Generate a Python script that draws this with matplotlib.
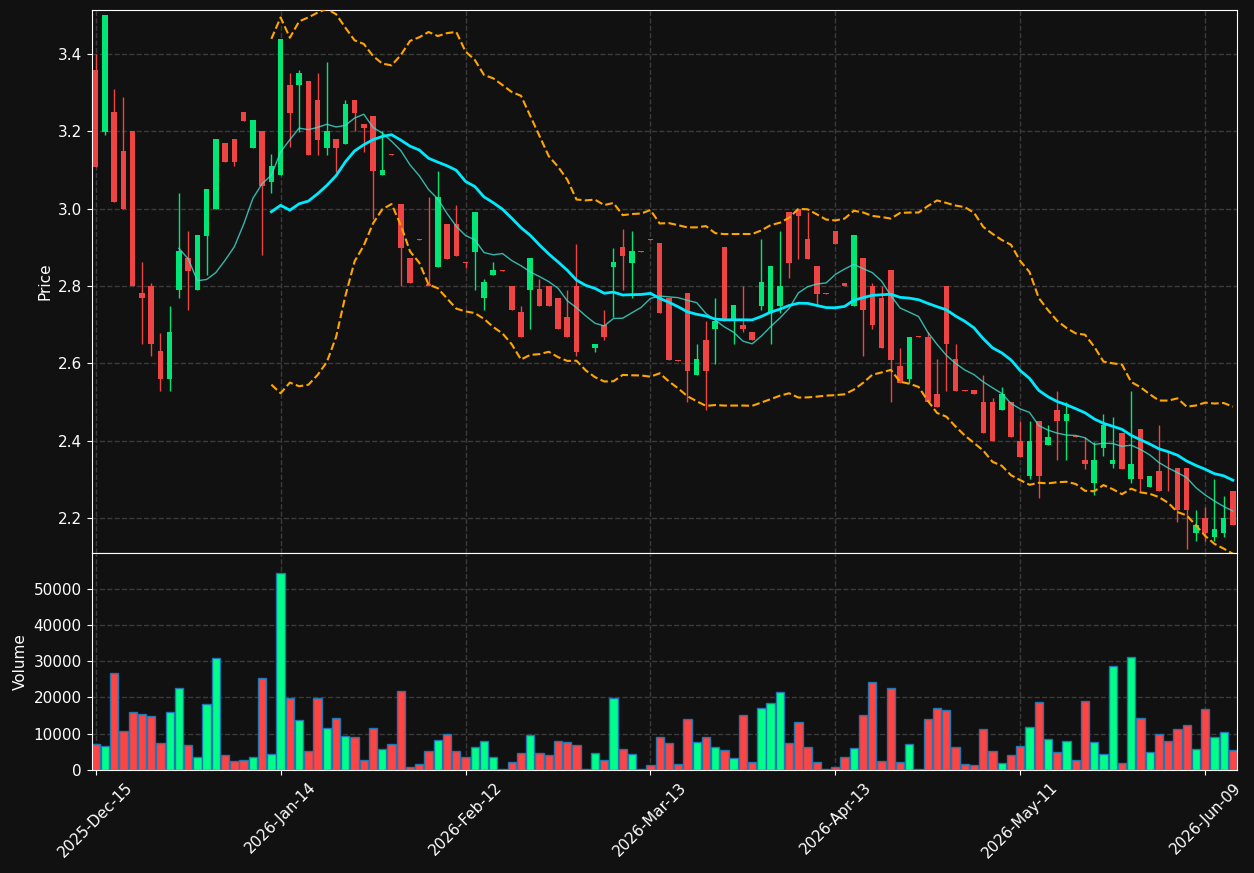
import numpy as np
import pandas as pd
import matplotlib
matplotlib.use("Agg")
import matplotlib.pyplot as plt

# trading days (NYSE calendar) from 2025-12-15 to 2026-06-12
holidays = ["2025-12-25", "2026-01-01", "2026-01-19", "2026-02-16", "2026-04-03", "2026-05-25"]
dates = pd.bdate_range("2025-12-15", "2026-06-12", freq="C", holidays=holidays)

opens = [3.358, 3.199, 3.249, 3.148, 3.200, 2.781, 2.801, 2.631, 2.559, 2.790,
         2.871, 2.790, 2.928, 3.000, 3.169, 3.180, 3.249, 3.157, 3.201, 3.069,
         3.087, 3.320, 3.318, 3.330, 3.280, 3.157, 3.180, 3.167, 3.280, 3.219,
         3.239, 3.087, 3.141, 3.011, 2.871, 2.922, 2.805, 2.849, 2.960, 2.960,
         2.862, 2.888, 2.769, 2.828, 2.841, 2.801, 2.732, 2.790, 2.791, 2.801,
         2.770, 2.721, 2.801, 2.630, 2.640, 2.700, 2.849, 2.900, 2.860, 2.889,
         2.921, 2.910, 2.770, 2.609, 2.781, 2.569, 2.661, 2.689, 2.900, 2.710,
         2.700, 2.680, 2.748, 2.730, 2.748, 2.990, 3.000, 2.921, 2.851, 2.781,
         2.942, 2.808, 2.748, 2.871, 2.801, 2.770, 2.841, 2.592, 2.559, 2.670,
         2.669, 2.521, 2.801, 2.610, 2.530, 2.530, 2.500, 2.500, 2.479, 2.500,
         2.399, 2.310, 2.451, 2.390, 2.479, 2.450, 2.411, 2.350, 2.290, 2.380,
         2.339, 2.420, 2.300, 2.430, 2.280, 2.321, 2.271, 2.330, 2.330, 2.161,
         2.200, 2.151, 2.161, 2.271]
highs = [3.400, 3.499, 3.308, 3.287, 3.200, 2.861, 2.808, 2.679, 2.749, 3.039,
         2.941, 2.931, 3.050, 3.180, 3.169, 3.180, 3.249, 3.229, 3.201, 3.140,
         3.439, 3.349, 3.357, 3.330, 3.349, 3.378, 3.180, 3.280, 3.280, 3.219,
         3.239, 3.200, 3.141, 3.011, 2.871, 2.922, 3.029, 3.098, 2.960, 3.009,
         2.862, 2.990, 2.819, 2.861, 2.841, 2.801, 2.749, 2.871, 2.819, 2.801,
         2.770, 2.790, 2.909, 2.630, 2.650, 2.739, 2.899, 2.948, 2.941, 2.889,
         2.921, 2.910, 2.770, 2.609, 2.781, 2.650, 2.710, 2.770, 2.900, 2.750,
         2.801, 2.680, 2.921, 2.851, 2.941, 2.990, 3.000, 2.990, 2.851, 2.781,
         2.942, 2.808, 2.931, 2.871, 2.808, 2.801, 2.841, 2.640, 2.669, 2.670,
         2.680, 2.610, 2.801, 2.650, 2.530, 2.530, 2.570, 2.511, 2.540, 2.500,
         2.451, 2.451, 2.451, 2.440, 2.529, 2.500, 2.411, 2.410, 2.396, 2.470,
         2.461, 2.420, 2.529, 2.430, 2.310, 2.440, 2.370, 2.330, 2.330, 2.220,
         2.229, 2.300, 2.258, 2.271]
lows = [3.108, 3.189, 3.018, 3.000, 2.800, 2.650, 2.620, 2.529, 2.529, 2.769,
        2.739, 2.790, 2.829, 3.000, 3.119, 3.109, 3.227, 3.157, 2.879, 3.039,
        3.087, 3.158, 3.199, 3.139, 3.139, 3.139, 3.095, 3.167, 3.200, 3.147,
        2.974, 3.087, 3.139, 2.801, 2.807, 2.920, 2.800, 2.849, 2.870, 2.878,
        2.847, 2.790, 2.739, 2.828, 2.839, 2.738, 2.668, 2.689, 2.748, 2.748,
        2.688, 2.668, 2.620, 2.628, 2.630, 2.660, 2.719, 2.790, 2.770, 2.887,
        2.919, 2.730, 2.608, 2.607, 2.500, 2.569, 2.480, 2.599, 2.710, 2.650,
        2.680, 2.660, 2.739, 2.650, 2.730, 2.820, 2.870, 2.870, 2.752, 2.779,
        2.908, 2.800, 2.748, 2.620, 2.689, 2.640, 2.500, 2.549, 2.549, 2.668,
        2.500, 2.488, 2.529, 2.528, 2.528, 2.520, 2.419, 2.399, 2.479, 2.409,
        2.359, 2.301, 2.252, 2.390, 2.350, 2.350, 2.409, 2.328, 2.260, 2.360,
        2.330, 2.328, 2.291, 2.270, 2.280, 2.270, 2.269, 2.190, 2.121, 2.141,
        2.141, 2.141, 2.151, 2.181]
closes = [3.108, 3.499, 3.018, 3.000, 2.800, 2.769, 2.650, 2.559, 2.680, 2.889,
          2.839, 2.931, 3.050, 3.180, 3.119, 3.119, 3.227, 3.229, 3.059, 3.110,
          3.439, 3.248, 3.349, 3.139, 3.178, 3.200, 3.157, 3.270, 3.248, 3.209,
          3.098, 3.100, 3.139, 2.899, 2.807, 2.920, 2.801, 3.029, 2.870, 2.878,
          2.860, 2.990, 2.809, 2.841, 2.839, 2.738, 2.668, 2.871, 2.748, 2.748,
          2.688, 2.668, 2.629, 2.628, 2.650, 2.668, 2.861, 2.878, 2.889, 2.887,
          2.919, 2.730, 2.608, 2.607, 2.580, 2.610, 2.580, 2.710, 2.710, 2.750,
          2.689, 2.660, 2.809, 2.851, 2.801, 2.860, 2.980, 2.870, 2.779, 2.779,
          2.908, 2.800, 2.931, 2.738, 2.699, 2.640, 2.608, 2.549, 2.669, 2.668,
          2.500, 2.488, 2.650, 2.528, 2.528, 2.520, 2.419, 2.399, 2.521, 2.409,
          2.359, 2.399, 2.310, 2.410, 2.450, 2.470, 2.409, 2.339, 2.350, 2.440,
          2.350, 2.328, 2.339, 2.300, 2.310, 2.270, 2.269, 2.220, 2.220, 2.181,
          2.161, 2.171, 2.200, 2.181]
volumes = [7100, 6550, 26750, 10700, 15960, 15400, 14850, 7380, 15960, 22600,
           6830, 3690, 18170, 30900, 4060, 2400, 2680, 3500, 25370, 4340,
           54430, 19830, 13750, 5170, 19830, 11530, 14300, 9320, 9040, 2680,
           11530, 5720, 7100, 21770, 740, 1570, 5170, 8210, 9870, 5170,
           3500, 6270, 7930, 3500, 250, 2120, 4610, 9590, 4610, 4060,
           7930, 7660, 6830, 250, 4610, 2680, 19830, 5720, 4340, 250,
           1290, 9040, 7380, 1570, 14020, 7660, 9040, 6270, 5440, 3230,
           15130, 2120, 17070, 18450, 21490, 7380, 13190, 6270, 2120, 250,
           740, 3500, 6000, 15130, 24260, 2400, 22600, 2120, 7100, 250,
           14020, 17070, 16510, 6270, 1570, 1290, 11250, 5170, 1850, 4060,
           6550, 11810, 18730, 8490, 4890, 7930, 2680, 19000, 7660, 4340,
           28690, 1850, 31180, 14300, 4890, 9870, 7930, 11250, 12360, 5720,
           16790, 9040, 10420, 5440]

df = pd.DataFrame({"open": opens, "high": highs, "low": lows, "close": closes,
                   "volume": volumes}, index=dates)
x = np.arange(len(df))
sma10 = df["close"].rolling(10).mean()
sma20 = df["close"].rolling(20).mean()
std20 = df["close"].rolling(20).std(ddof=0)
upper = sma20 + 2 * std20
lower = sma20 - 2 * std20

bg = "#111111"
up_c, dn_c = "#00e676", "#ef4444"
vup_c, vdn_c = "#00ff88", "#ff4444"

fig = plt.figure(figsize=(12.54, 8.73), dpi=100, facecolor=bg)
ax1 = fig.add_axes([0.0730, 0.3668, 0.9135, 0.6217])
ax2 = fig.add_axes([0.0730, 0.1180, 0.9135, 0.2488], sharex=ax1)

rising = df["close"] >= df["open"]
ccol = np.where(rising, up_c, dn_c)
vcol = np.where(rising, vup_c, vdn_c)

ax1.vlines(x, df["low"], df["high"], colors=ccol, linewidth=1, zorder=2)
body_lo = np.minimum(df["open"], df["close"])
body_h = np.maximum(np.abs(df["close"] - df["open"]), 0.002)
ax1.bar(x, body_h, bottom=body_lo, width=0.6, color=ccol, linewidth=0, zorder=3)

ax1.plot(x, sma10, color="turquoise", linewidth=1, alpha=0.8, zorder=4)
ax1.plot(x, sma20, color="#00eaff", linewidth=2, zorder=4)
ax1.plot(x, upper, color="orange", linewidth=1.5, linestyle="--", zorder=4)
ax1.plot(x, lower, color="orange", linewidth=1.5, linestyle="--", zorder=4)

ax2.bar(x, df["volume"], width=0.9, color=vcol, edgecolor="#1f77b4", linewidth=1)

ax1.set_ylim(df["low"].min() * 0.995, df["high"].max() * 1.004)
ax2.set_ylim(0, df["volume"].max() * 1.1)
ax1.set_xlim(-0.45, len(df) - 0.55)

ticks = list(range(0, len(df), 20))
ax2.set_xticks(ticks)
ax2.set_xticklabels([dates[t].strftime("%Y-%b-%d") for t in ticks], rotation=45)
plt.setp(ax1.get_xticklabels(), visible=False)
ax2.set_yticks(range(0, 60000, 10000))

ax1.set_ylabel("Price", color="white", fontsize=11)
ax2.set_ylabel("Volume", color="white", fontsize=11)

for ax in (ax1, ax2):
    ax.set_facecolor(bg)
    ax.grid(True, color="#3a3a3a", linestyle="--", linewidth=1)
    ax.set_axisbelow(True)
    ax.tick_params(colors="white", labelsize=11)
    for s in ax.spines.values():
        s.set_color("white")

fig.savefig("out.png", dpi=100, facecolor=bg)
